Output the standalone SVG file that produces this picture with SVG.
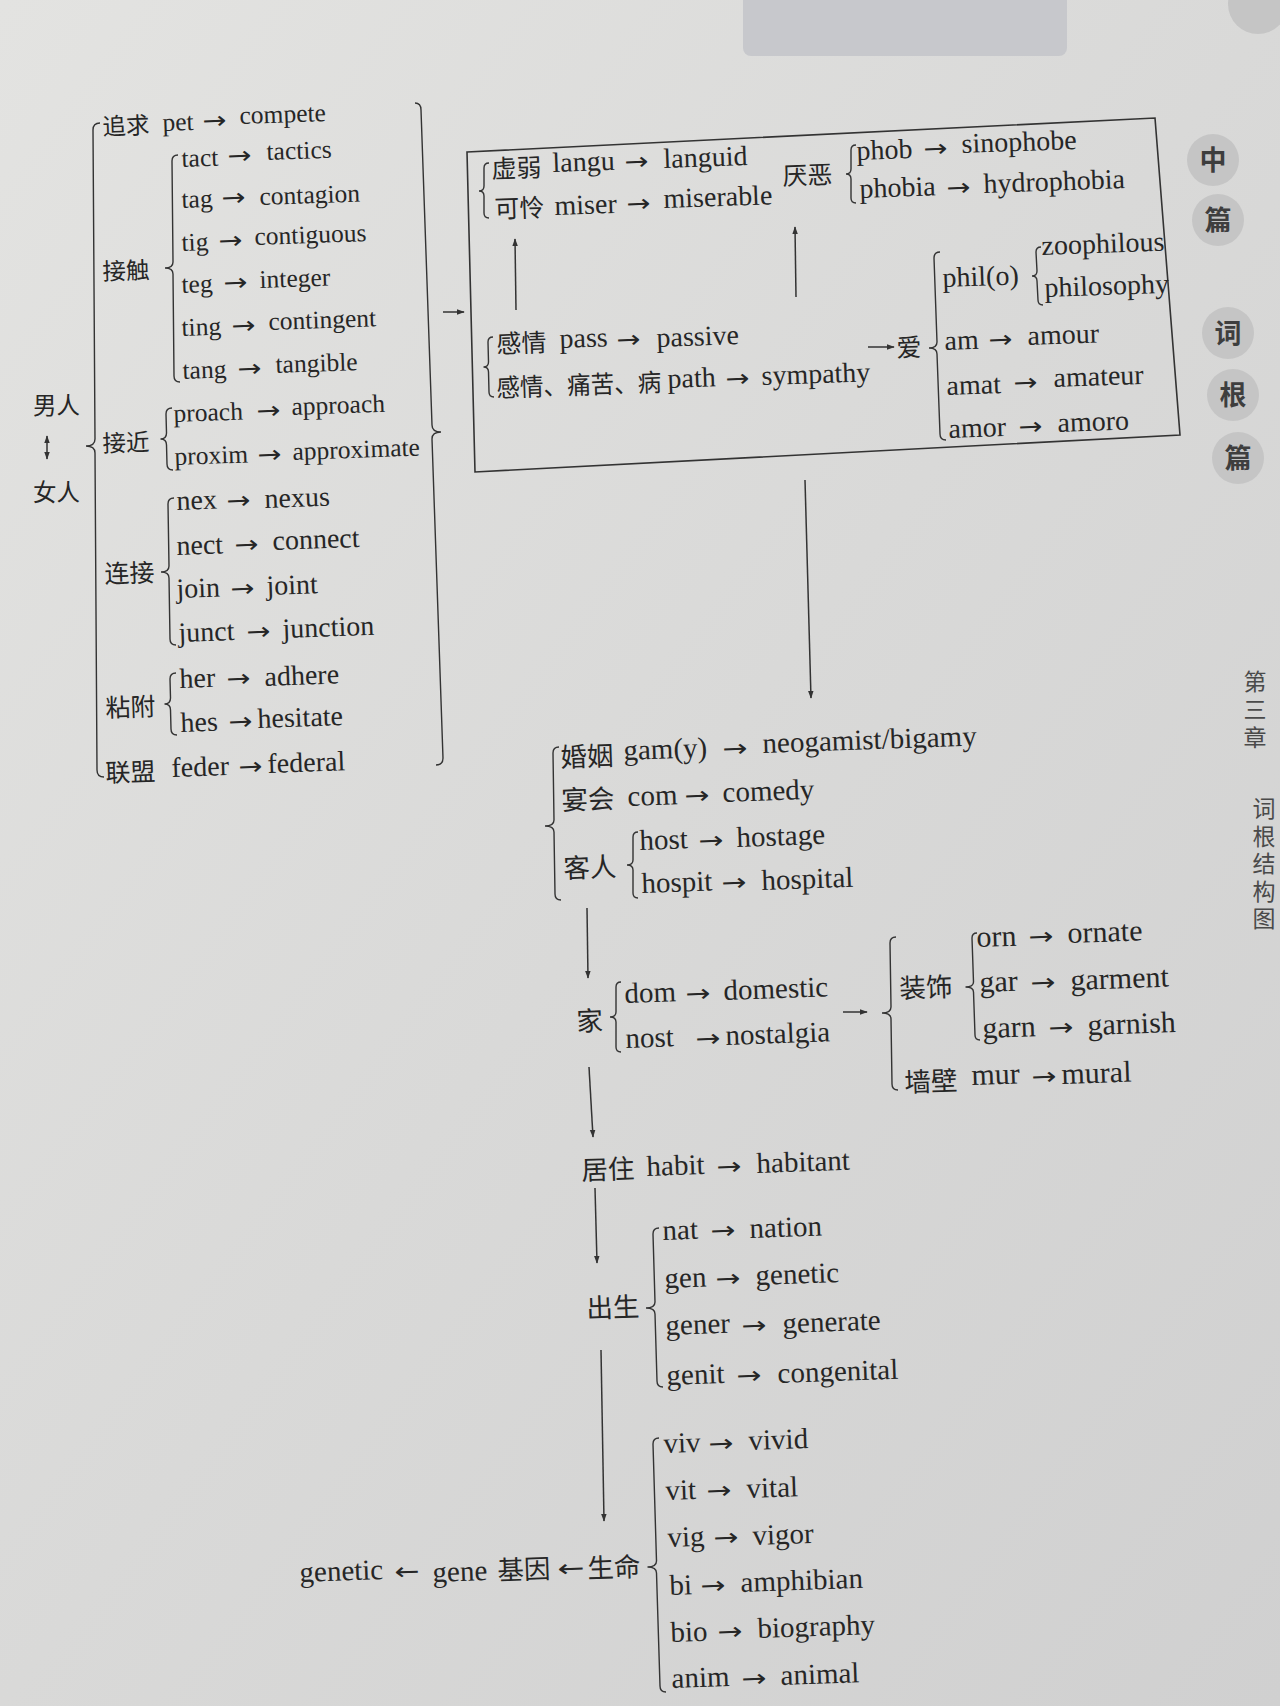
<svg xmlns="http://www.w3.org/2000/svg" width="1280" height="1706" viewBox="0 0 1280 1706">
<defs>
<linearGradient id="bg" x1="0" y1="0" x2="1" y2="1">
<stop offset="0" stop-color="#e3e3e1"/>
<stop offset="0.5" stop-color="#d9d9d8"/>
<stop offset="1" stop-color="#d0d0d0"/>
</linearGradient>
<marker id="ah" viewBox="0 0 10 10" refX="9" refY="5" markerWidth="8" markerHeight="8" markerUnits="userSpaceOnUse" orient="auto-start-reverse">
<path d="M0,1.5 L10,5 L0,8.5 z" fill="#333"/>
</marker>
<style>
text{fill:#262626}
.t{transform-box:fill-box;transform-origin:0 100%;transform:rotate(-2deg)}
.e1,.e2,.e3,.e4{font-family:"Liberation Serif","Times New Roman",serif}
.e1{font-size:25.5px}.e2{font-size:28px}.e3{font-size:29px}.e4{font-size:30px}
.c1,.c2,.c3{font-family:"Noto Sans CJK SC","Noto Sans CJK TC",sans-serif}
.c1{font-size:23.5px}.c2{font-size:25px}.c3{font-size:26.5px}
.a{font-family:"DejaVu Sans",sans-serif;font-size:24px}
.br{fill:none;stroke:#333;stroke-width:1.4}
.cn{fill:none;stroke:#333;stroke-width:1.5}
.tab{fill:#c5c5c5}
.tabt{font-family:"Noto Sans CJK SC",sans-serif;font-size:27px;font-weight:bold;fill:#3e3e3e;text-anchor:middle}
.side{font-family:"Noto Sans CJK SC",sans-serif;font-size:23px;fill:#4a4a4a;writing-mode:vertical-rl}
</style>
</defs>
<rect width="1280" height="1706" fill="url(#bg)"/>
<rect x="743" y="-10" width="324" height="66" rx="8" fill="#c7c8cc"/>
<circle class="tab" cx="1258" cy="4" r="30"/>

<g id="man"><text class="c1" x="33" y="414">男人</text></g>
<g id="woman"><text class="c1" x="33" y="501">女人</text></g>

<g id="n-zhuiqiu">
<text class="c1 t" x="103" y="135">追求</text>
<text class="e1 t" x="163" y="131">pet</text><text class="a t" x="203" y="129" textLength="24" lengthAdjust="spacingAndGlyphs">→</text><text class="e1 t" x="240" y="124">compete</text>
</g>
<g id="n-jiechu">
<text class="c1 t" x="103" y="280">接触</text>
<text class="e1 t" x="182" y="167">tact</text><text class="a t" x="228" y="164" textLength="24" lengthAdjust="spacingAndGlyphs">→</text><text class="e1 t" x="267" y="160">tactics</text>
<text class="e1 t" x="182" y="208">tag</text><text class="a t" x="222" y="206" textLength="24" lengthAdjust="spacingAndGlyphs">→</text><text class="e1 t" x="260" y="205">contagion</text>
<text class="e1 t" x="182" y="251">tig</text><text class="a t" x="219" y="249" textLength="24" lengthAdjust="spacingAndGlyphs">→</text><text class="e1 t" x="255" y="245">contiguous</text>
<text class="e1 t" x="182" y="293">teg</text><text class="a t" x="224" y="291" textLength="24" lengthAdjust="spacingAndGlyphs">→</text><text class="e1 t" x="260" y="288">integer</text>
<text class="e1 t" x="182" y="336">ting</text><text class="a t" x="232" y="334" textLength="24" lengthAdjust="spacingAndGlyphs">→</text><text class="e1 t" x="269" y="330">contingent</text>
<text class="e1 t" x="183" y="379">tang</text><text class="a t" x="238" y="377" textLength="24" lengthAdjust="spacingAndGlyphs">→</text><text class="e1 t" x="276" y="373">tangible</text>
</g>
<g id="n-jiejin">
<text class="c1 t" x="103" y="452">接近</text>
<text class="e1 t" x="174" y="422">proach</text><text class="a t" x="257" y="419" textLength="24" lengthAdjust="spacingAndGlyphs">→</text><text class="e1 t" x="292" y="415">approach</text>
<text class="e1 t" x="175" y="465">proxim</text><text class="a t" x="258" y="463" textLength="24" lengthAdjust="spacingAndGlyphs">→</text><text class="e1 t" x="293" y="460">approximate</text>
</g>
<g id="n-lianjie">
<text class="c2 t" x="105" y="583">连接</text>
<text class="e2 t" x="177" y="510">nex</text><text class="a t" x="227" y="509" textLength="24" lengthAdjust="spacingAndGlyphs">→</text><text class="e2 t" x="265" y="508">nexus</text>
<text class="e2 t" x="177" y="555">nect</text><text class="a t" x="235" y="553" textLength="24" lengthAdjust="spacingAndGlyphs">→</text><text class="e2 t" x="273" y="550">connect</text>
<text class="e2 t" x="177" y="598">join</text><text class="a t" x="231" y="597" textLength="24" lengthAdjust="spacingAndGlyphs">→</text><text class="e2 t" x="267" y="595">joint</text>
<text class="e2 t" x="179" y="642">junct</text><text class="a t" x="247" y="640" textLength="24" lengthAdjust="spacingAndGlyphs">→</text><text class="e2 t" x="283" y="638">junction</text>
</g>
<g id="n-zhanfu">
<text class="c2 t" x="106" y="717">粘附</text>
<text class="e2 t" x="180" y="688">her</text><text class="a t" x="227" y="687" textLength="24" lengthAdjust="spacingAndGlyphs">→</text><text class="e2 t" x="265" y="686">adhere</text>
<text class="e2 t" x="181" y="732">hes</text><text class="a t" x="229" y="730" textLength="24" lengthAdjust="spacingAndGlyphs">→</text><text class="e2 t" x="258" y="728">hesitate</text>
</g>
<g id="n-lianmeng">
<text class="c2 t" x="106" y="782">联盟</text>
<text class="e2 t" x="172" y="777">feder</text><text class="a t" x="239" y="775" textLength="24" lengthAdjust="spacingAndGlyphs">→</text><text class="e2 t" x="268" y="773">federal</text>
</g>

<g id="box">
<polygon points="467,152 1155,118 1180,435 475,472" fill="none" stroke="#333" stroke-width="1.6"/>
</g>
<g id="n-xuruo">
<text class="c2 t" x="492" y="178">虚弱</text>
<text class="e2 t" x="553" y="172">langu</text><text class="a t" x="625" y="170" textLength="24" lengthAdjust="spacingAndGlyphs">→</text><text class="e2 t" x="664" y="168">languid</text>
<text class="c2 t" x="495" y="218">可怜</text>
<text class="e2 t" x="555" y="215">miser</text><text class="a t" x="627" y="212" textLength="24" lengthAdjust="spacingAndGlyphs">→</text><text class="e2 t" x="664" y="208">miserable</text>
</g>
<g id="n-yanwu">
<text class="c2 t" x="783" y="185">厌恶</text>
<text class="e2 t" x="857" y="160">phob</text><text class="a t" x="924" y="157" textLength="24" lengthAdjust="spacingAndGlyphs">→</text><text class="e2 t" x="962" y="153">sinophobe</text>
<text class="e2 t" x="860" y="198">phobia</text><text class="a t" x="947" y="196" textLength="24" lengthAdjust="spacingAndGlyphs">→</text><text class="e2 t" x="984" y="193">hydrophobia</text>
</g>
<g id="n-ganqing">
<text class="c2 t" x="497" y="353">感情</text>
<text class="e2 t" x="560" y="348">pass</text><text class="a t" x="617" y="348" textLength="24" lengthAdjust="spacingAndGlyphs">→</text><text class="e2 t" x="657" y="347">passive</text>
<text class="c2 t" x="497" y="397" textLength="165" lengthAdjust="spacingAndGlyphs">感情、痛苦、病</text>
<text class="e2 t" x="668" y="388">path</text><text class="a t" x="726" y="387" textLength="24" lengthAdjust="spacingAndGlyphs">→</text><text class="e2 t" x="762" y="385">sympathy</text>
</g>
<g id="n-ai">
<text class="c2 t" x="897" y="357">爱</text>
<text class="e2 t" x="943" y="287">phil(o)</text>
<text class="e2 t" x="1042" y="255">zoophilous</text>
<text class="e2 t" x="1045" y="297">philosophy</text>
<text class="e2 t" x="945" y="350">am</text><text class="a t" x="989" y="348" textLength="24" lengthAdjust="spacingAndGlyphs">→</text><text class="e2 t" x="1028" y="345">amour</text>
<text class="e2 t" x="947" y="395">amat</text><text class="a t" x="1014" y="391" textLength="24" lengthAdjust="spacingAndGlyphs">→</text><text class="e2 t" x="1054" y="387">amateur</text>
<text class="e2 t" x="949" y="438">amor</text><text class="a t" x="1019" y="435" textLength="24" lengthAdjust="spacingAndGlyphs">→</text><text class="e2 t" x="1058" y="432">amoro</text>
</g>

<g id="n-hunyin">
<text class="c3 t" x="561" y="767">婚姻</text>
<text class="e3 t" x="624" y="760">gam(y)</text><text class="a t" x="723" y="757" textLength="25" lengthAdjust="spacingAndGlyphs">→</text><text class="e3 t" x="763" y="753">neogamist/bigamy</text>
<text class="c3 t" x="562" y="810">宴会</text>
<text class="e3 t" x="628" y="806">com</text><text class="a t" x="685" y="804" textLength="25" lengthAdjust="spacingAndGlyphs">→</text><text class="e3 t" x="723" y="802">comedy</text>
<text class="c3 t" x="564" y="878">客人</text>
<text class="e3 t" x="640" y="850">host</text><text class="a t" x="699" y="849" textLength="25" lengthAdjust="spacingAndGlyphs">→</text><text class="e3 t" x="737" y="847">hostage</text>
<text class="e3 t" x="642" y="893">hospit</text><text class="a t" x="722" y="891" textLength="25" lengthAdjust="spacingAndGlyphs">→</text><text class="e3 t" x="762" y="890">hospital</text>
</g>
<g id="n-jia">
<text class="c3 t" x="577" y="1031">家</text>
<text class="e3 t" x="625" y="1003">dom</text><text class="a t" x="686" y="1002" textLength="25" lengthAdjust="spacingAndGlyphs">→</text><text class="e3 t" x="724" y="1000">domestic</text>
<text class="e3 t" x="626" y="1048">nost</text><text class="a t" x="696" y="1047" textLength="25" lengthAdjust="spacingAndGlyphs">→</text><text class="e3 t" x="726" y="1045">nostalgia</text>
</g>
<g id="n-zhuangshi">
<text class="c3 t" x="900" y="998">装饰</text>
<text class="e4 t" x="977" y="947">orn</text><text class="a t" x="1029" y="945" textLength="25" lengthAdjust="spacingAndGlyphs">→</text><text class="e4 t" x="1068" y="943">ornate</text>
<text class="e4 t" x="980" y="992">gar</text><text class="a t" x="1031" y="991" textLength="25" lengthAdjust="spacingAndGlyphs">→</text><text class="e4 t" x="1071" y="990">garment</text>
<text class="e4 t" x="983" y="1038">garn</text><text class="a t" x="1049" y="1036" textLength="25" lengthAdjust="spacingAndGlyphs">→</text><text class="e4 t" x="1088" y="1035">garnish</text>
<text class="c3 t" x="905" y="1092">墙壁</text>
<text class="e4 t" x="972" y="1085">mur</text><text class="a t" x="1032" y="1085" textLength="25" lengthAdjust="spacingAndGlyphs">→</text><text class="e4 t" x="1062" y="1084">mural</text>
</g>
<g id="n-juzhu">
<text class="c3 t" x="582" y="1180">居住</text>
<text class="e3 t" x="647" y="1176">habit</text><text class="a t" x="717" y="1175" textLength="25" lengthAdjust="spacingAndGlyphs">→</text><text class="e3 t" x="757" y="1173">habitant</text>
</g>
<g id="n-chusheng">
<text class="c3 t" x="587" y="1318">出生</text>
<text class="e3 t" x="663" y="1240">nat</text><text class="a t" x="711" y="1239" textLength="25" lengthAdjust="spacingAndGlyphs">→</text><text class="e3 t" x="750" y="1238">nation</text>
<text class="e3 t" x="665" y="1288">gen</text><text class="a t" x="716" y="1287" textLength="25" lengthAdjust="spacingAndGlyphs">→</text><text class="e3 t" x="756" y="1285">genetic</text>
<text class="e3 t" x="666" y="1335">gener</text><text class="a t" x="742" y="1334" textLength="25" lengthAdjust="spacingAndGlyphs">→</text><text class="e3 t" x="783" y="1333">generate</text>
<text class="e3 t" x="667" y="1385">genit</text><text class="a t" x="737" y="1384" textLength="25" lengthAdjust="spacingAndGlyphs">→</text><text class="e3 t" x="778" y="1383">congenital</text>
</g>
<g id="n-shengming">
<text class="e3 t" x="300" y="1582">genetic</text><text class="a t" x="395" y="1580" textLength="25" lengthAdjust="spacingAndGlyphs">←</text><text class="e3 t" x="433" y="1582">gene</text>
<text class="c3 t" x="498" y="1580">基因</text><text class="a t" x="558" y="1577" textLength="27" lengthAdjust="spacingAndGlyphs">←</text><text class="c3 t" x="588" y="1578">生命</text>
<text class="e3 t" x="664" y="1453">viv</text><text class="a t" x="709" y="1452" textLength="25" lengthAdjust="spacingAndGlyphs">→</text><text class="e3 t" x="749" y="1450">vivid</text>
<text class="e3 t" x="666" y="1500">vit</text><text class="a t" x="707" y="1499" textLength="25" lengthAdjust="spacingAndGlyphs">→</text><text class="e3 t" x="747" y="1498">vital</text>
<text class="e3 t" x="668" y="1547">vig</text><text class="a t" x="714" y="1546" textLength="25" lengthAdjust="spacingAndGlyphs">→</text><text class="e3 t" x="753" y="1545">vigor</text>
<text class="e3 t" x="670" y="1595">bi</text><text class="a t" x="701" y="1594" textLength="25" lengthAdjust="spacingAndGlyphs">→</text><text class="e3 t" x="741" y="1592">amphibian</text>
<text class="e3 t" x="671" y="1642">bio</text><text class="a t" x="718" y="1640" textLength="25" lengthAdjust="spacingAndGlyphs">→</text><text class="e3 t" x="758" y="1638">biography</text>
<text class="e3 t" x="672" y="1688">anim</text><text class="a t" x="742" y="1687" textLength="25" lengthAdjust="spacingAndGlyphs">→</text><text class="e3 t" x="781" y="1685">animal</text>
</g>

<g id="braces">
<path class="br" d="M100,123 Q93,123 93,130 L95,439 Q95,446 86,446 Q95,446 95,453 L97,770 Q97,777 104,777"/>
<path class="br" d="M178,155 Q172,155 172,161 L173,262 Q173,268 165,268 Q173,268 173,274 L174,376 Q174,382 180,382"/>
<path class="br" d="M172,408 Q166,408 166,414 L166.5,433 Q166.5,439 160.5,439 Q166.5,439 166.5,445 L167,464 Q167,470 173,470"/>
<path class="br" d="M174,498 Q168,498 168,504 L169,566 Q169,572 161,572 Q169,572 169,578 L170,639 Q170,645 176,645"/>
<path class="br" d="M176,673 Q170,673 170,679 L170.5,698 Q170.5,704 164.5,704 Q170.5,704 170.5,710 L171,729 Q171,735 177,735"/>
<path class="br" d="M415,103 Q421,103 421,110 L432,425 Q432,432 441,432 Q432,432 432,439 L443,758 Q443,765 436,765"/>
<path class="br" d="M489,163 Q484,163 484,168 L484,186 Q484,191 479,191 Q484,191 484,196 L484,213 Q484,218 489,218"/>
<path class="br" d="M493,337 Q488,337 488,342 L488.5,362 Q488.5,367 483.5,367 Q488.5,367 488.5,372 L489,392 Q489,397 494,397"/>
<path class="br" d="M856,145 Q851,145 851,150 L851,169 Q851,174 846,174 Q851,174 851,179 L851,198 Q851,203 856,203"/>
<path class="br" d="M940,252 Q934,252 934,258 L937,342 Q937,348 929,348 Q937,348 937,354 L940,434 Q940,440 946,440"/>
<path class="br" d="M1041,247 Q1036,247 1036,252 L1037,271 Q1037,276 1032,276 Q1037,276 1037,281 L1038,300 Q1038,305 1043,305"/>
<path class="br" d="M559,747 Q553,747 553,753 L554,820 Q554,826 545,826 Q554,826 554,832 L555,894 Q555,900 561,900"/>
<path class="br" d="M638,832 Q633,832 633,837 L633,860 Q633,865 627,865 Q633,865 633,870 L633,893 Q633,898 638,898"/>
<path class="br" d="M621,982 Q616,982 616,987 L616,1012 Q616,1017 610,1017 Q616,1017 616,1022 L616,1047 Q616,1052 621,1052"/>
<path class="br" d="M896,937 Q890,937 890,943 L891,1007 Q891,1013 882,1013 Q891,1013 891,1019 L892,1084 Q892,1090 898,1090"/>
<path class="br" d="M977,933 Q972,933 972,938 L973.5,982 Q973.5,987 965.5,987 Q973.5,987 973.5,992 L975,1035 Q975,1040 980,1040"/>
<path class="br" d="M659,1228 Q653,1228 653,1234 L655,1302 Q655,1308 646,1308 Q655,1308 655,1314 L657,1381 Q657,1387 663,1387"/>
<path class="br" d="M659,1438 Q653,1438 653,1444 L656.5,1561 Q656.5,1567 647.5,1567 Q656.5,1567 656.5,1573 L660,1686 Q660,1692 666,1692"/>
</g>

<g id="connectors">
<line class="cn" x1="47" y1="436" x2="47" y2="459" marker-start="url(#ah)" marker-end="url(#ah)"/>
<line class="cn" x1="443" y1="312" x2="464" y2="312" marker-end="url(#ah)"/>
<line class="cn" x1="516" y1="310" x2="515" y2="239" marker-end="url(#ah)"/>
<line class="cn" x1="796" y1="297" x2="795" y2="227" marker-end="url(#ah)"/>
<line class="cn" x1="868" y1="347" x2="894" y2="347" marker-end="url(#ah)"/>
<line class="cn" x1="805" y1="480" x2="811" y2="698" marker-end="url(#ah)"/>
<line class="cn" x1="587" y1="908" x2="588" y2="978" marker-end="url(#ah)"/>
<line class="cn" x1="843" y1="1012" x2="867" y2="1012" marker-end="url(#ah)"/>
<line class="cn" x1="589" y1="1067" x2="593" y2="1137" marker-end="url(#ah)"/>
<line class="cn" x1="595" y1="1188" x2="597" y2="1263" marker-end="url(#ah)"/>
<line class="cn" x1="601" y1="1350" x2="604" y2="1521" marker-end="url(#ah)"/>
</g>

<g id="tabs">
<circle class="tab" cx="1213" cy="160" r="26"/><text class="tabt" x="1213" y="170">中</text>
<circle class="tab" cx="1218" cy="220" r="26"/><text class="tabt" x="1218" y="230">篇</text>
<circle class="tab" cx="1228" cy="333" r="26"/><text class="tabt" x="1228" y="343">词</text>
<circle class="tab" cx="1233" cy="395" r="26"/><text class="tabt" x="1233" y="405">根</text>
<circle class="tab" cx="1238" cy="458" r="26"/><text class="tabt" x="1238" y="468">篇</text>
</g>
<g id="chapter">
<text class="side" x="1255" y="670" letter-spacing="5">第三章</text>
<text class="side" x="1264" y="797" letter-spacing="4.5">词根结构图</text>
</g>
</svg>
